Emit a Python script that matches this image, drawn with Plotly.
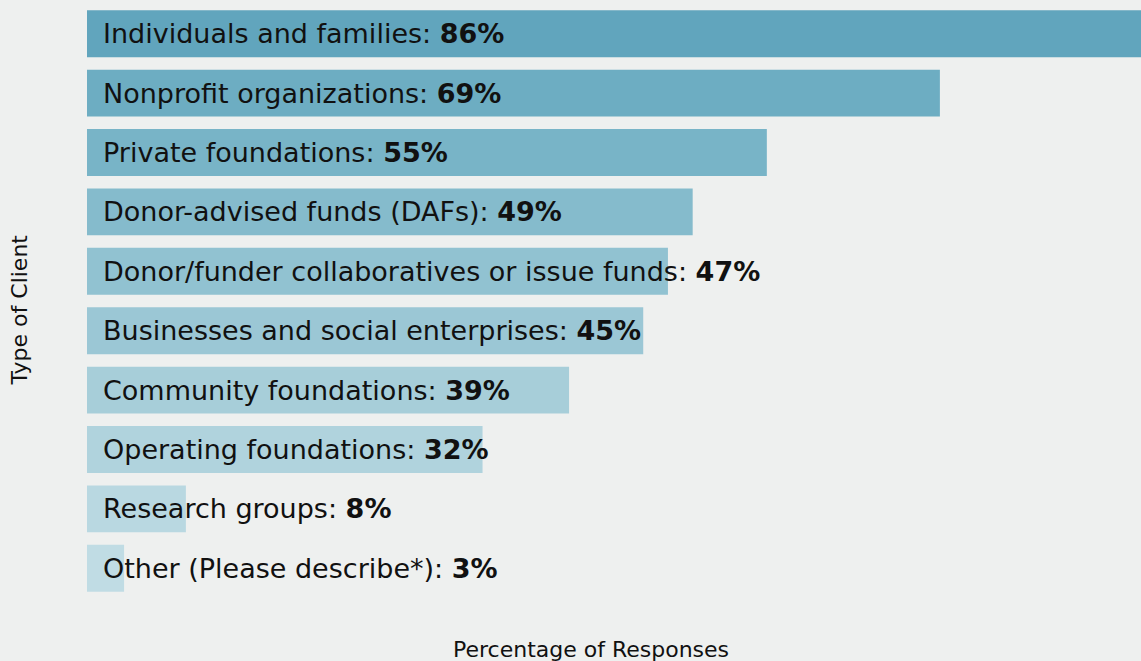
import plotly.graph_objects as go

# Client types and share of responses (%)
categories = [
    "Individuals and families",
    "Nonprofit organizations",
    "Private foundations",
    "Donor-advised funds (DAFs)",
    "Donor/funder collaboratives or issue funds",
    "Businesses and social enterprises",
    "Community foundations",
    "Operating foundations",
    "Research groups",
    "Other (Please describe*)",
]
values = [86, 69, 55, 49, 47, 45, 39, 32, 8, 3]
bar_colors = [
    "#61A5BD", "#6DADC2", "#78B4C7", "#85BBCC", "#91C2D1",
    "#9BC7D5", "#A7CED9", "#B0D3DD", "#B9D8E1", "#C0DCE4",
]

FONT = "DejaVu Sans"
BG = "#EEF0EF"

fig = go.Figure(
    go.Bar(
        x=values,
        y=categories,
        orientation="h",
        marker=dict(color=bar_colors, line=dict(width=0)),
        width=0.79,
        hoverinfo="skip",
    )
)

for cat, val in zip(categories, values):
    fig.add_annotation(
        x=0, y=cat, xref="x", yref="y",
        text=f"{cat}: <b>{val}%</b>",
        xanchor="left", yanchor="middle", xshift=14,
        showarrow=False,
        font=dict(family=FONT, size=27, color="#111111"),
    )

fig.add_annotation(
    x=0.478, y=-0.087, xref="paper", yref="paper",
    text="Percentage of Responses", showarrow=False,
    xanchor="center", yanchor="middle",
    font=dict(family=FONT, size=22, color="#111111"),
)
fig.add_annotation(
    x=-0.064, y=0.485, xref="paper", yref="paper",
    text="Type of Client", showarrow=False, textangle=-90,
    xanchor="center", yanchor="middle",
    font=dict(family=FONT, size=22, color="#111111"),
)

fig.update_layout(
    width=1141, height=661,
    margin=dict(l=87, r=0, t=4, b=63),
    paper_bgcolor=BG, plot_bgcolor=BG,
    showlegend=False,
    xaxis=dict(range=[0, 85.27], visible=False, fixedrange=True),
    yaxis=dict(autorange="reversed", visible=False, fixedrange=True),
    bargap=0.21,
)

fig.write_html("out.html", config={"displayModeBar": False})
